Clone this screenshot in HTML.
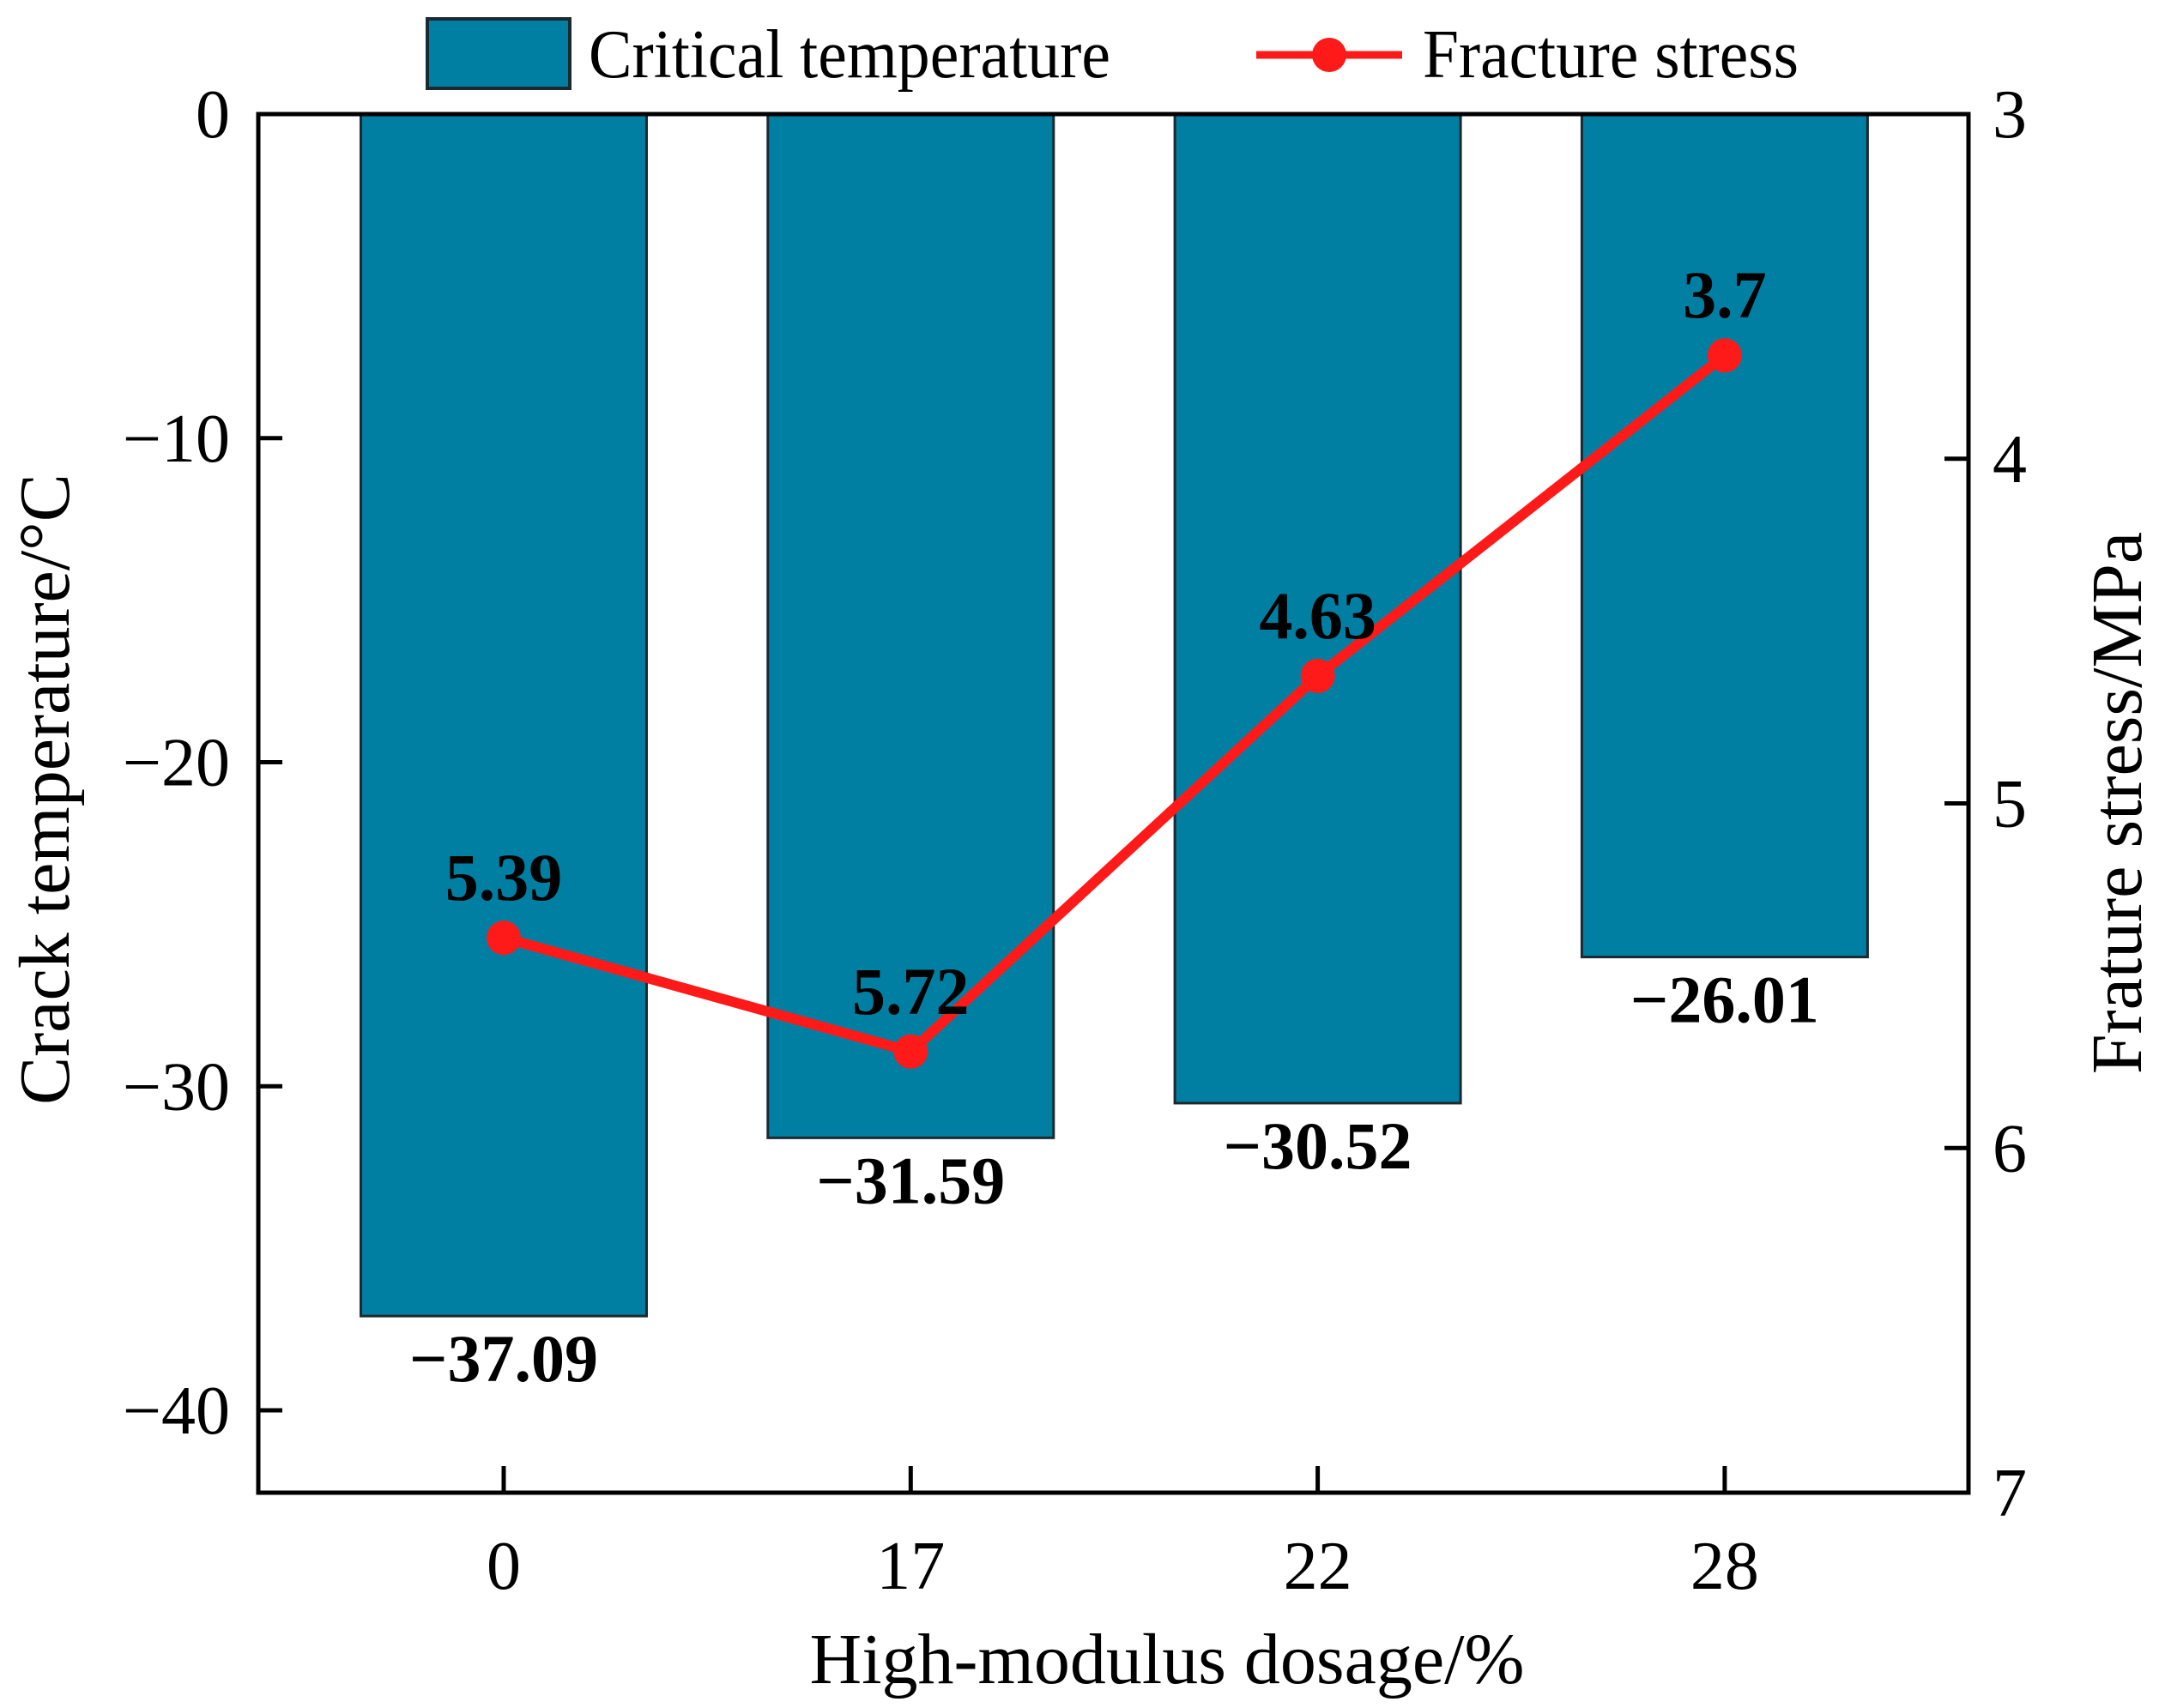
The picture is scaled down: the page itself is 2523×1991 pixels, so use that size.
<!DOCTYPE html>
<html><head><meta charset="utf-8"><style>
html,body{margin:0;padding:0;background:#fff;}
svg{display:block;font-family:"Liberation Serif",serif;}
</style></head><body>
<svg id="chart" width="2523" height="1991" viewBox="0 0 2523 1991" xmlns="http://www.w3.org/2000/svg">
<g id="legend">
  <rect x="498" y="22" width="166" height="81" fill="#007fa3" stroke="#1a2a30" stroke-width="4"/>
  <text x="686" y="90" font-size="80" textLength="608" lengthAdjust="spacingAndGlyphs">Critical temperature</text>
  <line x1="1464" y1="64" x2="1634" y2="64" stroke="#ff1a1a" stroke-width="9"/>
  <circle cx="1549" cy="64" r="20" fill="#ff1a1a"/>
  <text x="1658" y="90" font-size="80" textLength="438" lengthAdjust="spacingAndGlyphs">Fracture stress</text>
</g>
<g id="bars"></g>
<g id="line"></g>
<g id="axes"></g>
<g id="labels"></g>
<text x="1360" y="1962" font-size="84" text-anchor="middle">High-modulus dosage/%</text>
<text transform="translate(80,920) rotate(-90)" font-size="84" text-anchor="middle">Crack temperature/°C</text>
<text transform="translate(2495,936) rotate(-90)" font-size="84" text-anchor="middle">Frature stress/MPa</text>
</svg>
<script>
const categories = ["0", "17", "22", "28"];
const critTemp = [-37.09, -31.59, -30.52, -26.01];
const fractureStress = [5.39, 5.72, 4.63, 3.7];
const leftTicks = [0, -10, -20, -30, -40];
const rightTicks = [3, 4, 5, 6, 7];

const NS = "http://www.w3.org/2000/svg";
const L = 301, R = 2294, T = 133, B = 1740;
function yL(v){ return T + (0 - v) / 42.54 * (B - T); }
function yR(v){ return T + (v - 3) / 4 * (B - T); }
function xC(i){ return 587 + i * 474.3; }
const barW = 333;
function mk(tag, attrs, parent){
  const e = document.createElementNS(NS, tag);
  for (const k in attrs) e.setAttribute(k, attrs[k]);
  parent.appendChild(e);
  return e;
}
const gBars = document.getElementById('bars');
const gLine = document.getElementById('line');
const gAxes = document.getElementById('axes');
const gLab = document.getElementById('labels');

critTemp.forEach((v, i) => {
  const y0 = yL(0), y1 = yL(v);
  const r = mk('rect', {x: xC(i) - barW/2, y: y0, width: barW, height: y1 - y0, fill: '#007fa3', stroke: '#1a2a30', 'stroke-width': 3}, gBars);
  
  
  const t = mk('text', {x: xC(i), y: y1 + 76, 'font-size': 78, 'font-weight': 'bold', 'text-anchor': 'middle'}, gLab);
  t.textContent = '\u2212' + Math.abs(v).toFixed(2);
  
  
});

const pts = fractureStress.map((v, i) => xC(i) + ',' + yR(v)).join(' ');
const pl = mk('polyline', {points: pts, fill: 'none', stroke: '#ff1a1a', 'stroke-width': 12, 'stroke-linejoin': 'round'}, gLine);


fractureStress.forEach((v, i) => {
  const c = mk('circle', {cx: xC(i), cy: yR(v), r: 20, fill: '#ff1a1a'}, gLine);
  
  
  const t = mk('text', {x: xC(i), y: yR(v) - 44, 'font-size': 78, 'font-weight': 'bold', 'text-anchor': 'middle'}, gLab);
  t.textContent = String(v);
  
  
});

const frame = mk('rect', {x: L, y: T, width: R - L, height: B - T, fill: 'none', stroke: '#000', 'stroke-width': 5}, gAxes);



leftTicks.forEach(v => {
  const y = yL(v);
  if (v !== 0) {
    const tk = mk('line', {x1: L, x2: L + 28, y1: y, y2: y, stroke: '#000', 'stroke-width': 5}, gAxes);
    
    
  }
  const t = mk('text', {x: 268, y: y + 27, 'font-size': 80, 'text-anchor': 'end'}, gAxes);
  t.textContent = v === 0 ? '0' : '\u2212' + Math.abs(v);
  
  
});
rightTicks.forEach(v => {
  const y = yR(v);
  if (v !== 3 && v !== 7) {
    const tk = mk('line', {x1: R - 28, x2: R, y1: y, y2: y, stroke: '#000', 'stroke-width': 5}, gAxes);
    
    
  }
  const t = mk('text', {x: 2322, y: y + 27, 'font-size': 80}, gAxes);
  t.textContent = String(v);
  
  
});
categories.forEach((c, i) => {
  const x = xC(i);
  const tk = mk('line', {x1: x, x2: x, y1: B, y2: B - 31, stroke: '#000', 'stroke-width': 5}, gAxes);
  
  
  const t = mk('text', {x: x, y: 1852, 'font-size': 80, 'text-anchor': 'middle'}, gAxes);
  t.textContent = c;
  
  
});
</script>
</body></html>
